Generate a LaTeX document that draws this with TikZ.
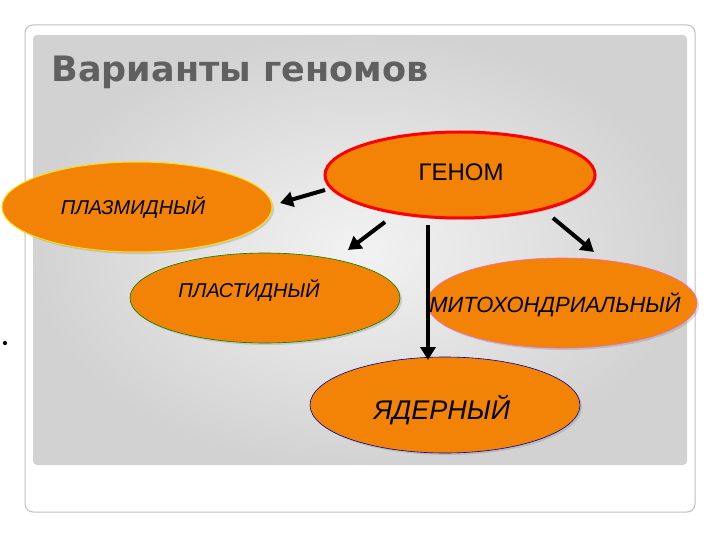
\documentclass[tikz,border=0pt]{standalone}
\usepackage{fontspec}
\setmainfont{Liberation Sans}
\newfontfamily\titlefont{DejaVu Sans}
\usetikzlibrary{shapes.geometric,arrows.meta,shadows}
\definecolor{org}{HTML}{F28306}
\tikzset{
  blob/.style={ellipse, fill=org, minimum width=270pt, minimum height=90pt, inner sep=0pt, drop shadow={opacity=0.3,shadow xshift=2pt,shadow yshift=-2pt}},
  lbl/.style={font=\itshape\fontsize{20}{24}\selectfont},
  arr/.style={line width=4pt, -{Triangle[length=13pt,width=15pt]}}
}
\begin{document}
\begin{tikzpicture}[x=1pt,y=-1pt]
\useasboundingbox (0,0) rectangle (720,540);
\fill[white] (0,0) rectangle (720,540);
\draw[gray!50, line width=1pt, rounded corners=8pt, fill=white] (25,25) rectangle (695,512);
\shade[rounded corners=4pt, inner color=gray!10, outer color=gray!35] (33,35) rectangle (687,465);
\node[anchor=west, font=\titlefont\bfseries\fontsize{35}{40}\selectfont, text=gray!75!black] (title) at (48,72) {Варианты геномов};
\node[blob, draw=red, line width=3pt, minimum height=86pt] (genom) at (460,175) {};
\node[font=\fontsize{24}{28}\selectfont] (tg) at (461,172) {ГЕНОМ};
\node[blob, draw=yellow!80!orange, line width=1pt] (plaz) at (137,207) {};
\node[lbl] (tp) at (133,207) {ПЛАЗМИДНЫЙ};
\node[blob, draw=green!50!black, line width=0.6pt] (plast) at (265,298) {};
\node[lbl] (tpl) at (249,290) {ПЛАСТИДНЫЙ};
\node[blob, draw=magenta!60, line width=0.6pt] (mito) at (562,303) {};
\node[font=\itshape\fontsize{22}{26}\selectfont] (tm) at (555,305) {МИТОХОНДРИАЛЬНЫЙ};
\node[blob, draw=blue!60!black, line width=0.6pt, minimum height=96pt] (yad) at (445,405) {};
\node[font=\itshape\fontsize{27}{30}\selectfont] (ty) at (442,410) {ЯДЕРНЫЙ};
\coordinate (a1s) at (325,190); \coordinate (a1e) at (280,203);
\coordinate (a2s) at (385,222); \coordinate (a2e) at (348,250);
\coordinate (a3s) at (553,218); \coordinate (a3e) at (594,252);
\coordinate (a4s) at (428,225); \coordinate (a4e) at (428,360);
\draw[arr] (a1s) -- (a1e);
\draw[arr] (a2s) -- (a2e);
\draw[arr] (a3s) -- (a3e);
\draw[arr] (a4s) -- (a4e);
\node[circle, fill=black, inner sep=1.5pt] (dot) at (5,343) {};
\end{tikzpicture}
\end{document}
